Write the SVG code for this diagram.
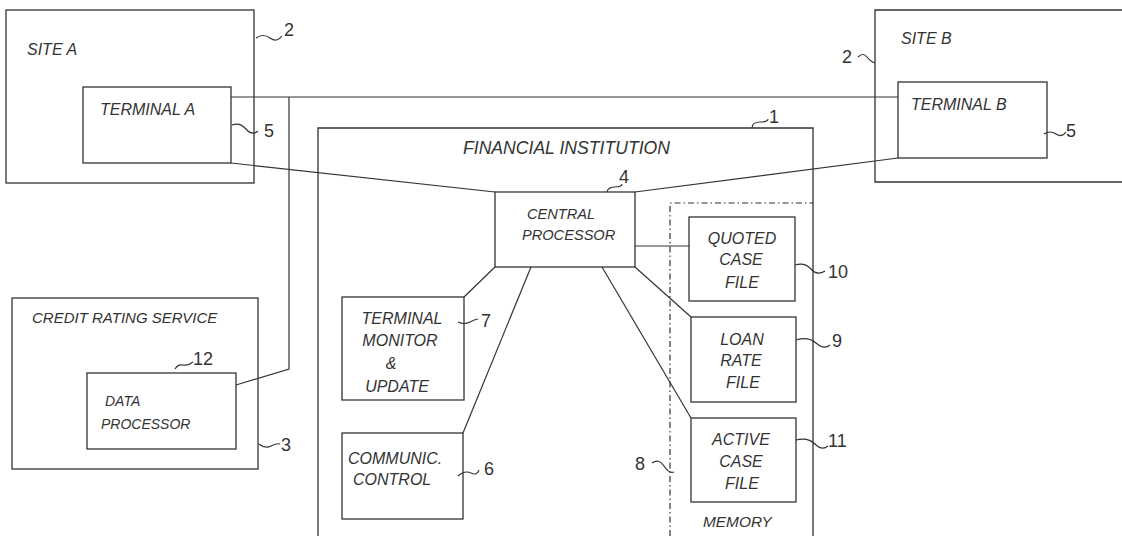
<svg xmlns="http://www.w3.org/2000/svg" width="1122" height="536" viewBox="0 0 1122 536">
<style>
.box{fill:none;stroke:#333;stroke-width:1.3}
.ln{fill:none;stroke:#333;stroke-width:1.2}
.dd{fill:none;stroke:#333;stroke-width:1.2;stroke-dasharray:6 3 1.5 3}
.sq{fill:none;stroke:#333;stroke-width:1.2}
.t{font-family:"Liberation Sans",Arial,sans-serif;font-style:italic;font-size:16px;fill:#333}
.tc{font-family:"Liberation Sans",Arial,sans-serif;font-style:italic;font-size:16px;fill:#333;text-anchor:middle}
.n{font-family:"Liberation Sans",Arial,sans-serif;font-size:18px;fill:#333}
</style>
<rect width="1122" height="536" fill="#fff"/>
<g id="connectors">
<path class="ln" d="M231,97 H898"/>
<path class="ln" d="M289,97 V369 L236,385"/>
<path class="ln" d="M231,163 L495,192"/>
<path class="ln" d="M898,158 L635,192"/>
<path class="ln" d="M635,246 H689"/>
<path class="ln" d="M635,267 L691,317"/>
<path class="ln" d="M602,267 L691,418"/>
<path class="ln" d="M495,267 L464,297"/>
<path class="ln" d="M531,267 L463,433"/>
</g>
<g id="site-a">
<rect class="box" x="6" y="10" width="248" height="173"/>
<text class="t" x="27" y="55">SITE A</text>
<path class="sq" d="M256,38 q7,-5 14,0 t12,-2"/>
<text class="n" x="284" y="36">2</text>
</g>
<g id="terminal-a">
<rect class="box" x="83" y="87" width="148" height="76"/>
<text class="t" x="100" y="115">TERMINAL A</text>
<path class="sq" d="M232,125 q8,-3 14,4 t12,2"/>
<text class="n" x="264" y="137">5</text>
</g>
<g id="site-b">
<path class="box" d="M1122,10 H875 V182 H1122"/>
<text class="t" x="901" y="44">SITE B</text>
<path class="sq" d="M858,57 q5,-5 9,0 t8,6"/>
<text class="n" x="842" y="63">2</text>
</g>
<g id="terminal-b">
<rect class="box" x="898" y="82" width="149" height="76"/>
<text class="t" x="911" y="110">TERMINAL B</text>
<path class="sq" d="M1044,134 q6,-4 12,0 t10,-2"/>
<text class="n" x="1066" y="137">5</text>
</g>
<g id="financial-institution">
<path class="box" d="M318,536 V128 H813 V536"/>
<text class="t" x="463" y="154" style="font-size:17.6px">FINANCIAL INSTITUTION</text>
<path class="sq" d="M752,128 q0,-6 8,-6 t8,-3"/>
<text class="n" x="769" y="123">1</text>
</g>
<g id="central-processor">
<rect class="box" x="495" y="192" width="140" height="75"/>
<text class="t" x="527" y="219" style="font-size:14.6px">CENTRAL</text>
<text class="t" x="522" y="240" style="font-size:14.6px">PROCESSOR</text>
<path class="sq" d="M607,192 q1,-5 8,-5 t7,-3"/>
<text class="n" x="619" y="183">4</text>
</g>
<g id="memory">
<path class="dd" d="M670,536 V203 H813"/>
<text class="t" x="703" y="527" style="font-size:15.4px">MEMORY</text>
<path class="sq" d="M652,463 q7,-5 12,3 t10,6"/>
<text class="n" x="635" y="470">8</text>
</g>
<g id="quoted-case-file">
<rect class="box" x="689" y="217" width="106" height="84"/>
<text class="tc" x="742" y="244">QUOTED</text>
<text class="tc" x="741" y="265">CASE</text>
<text class="tc" x="742" y="288">FILE</text>
<path class="sq" d="M795,265 q10,-3 16,4 t14,2"/>
<text class="n" x="828" y="278">10</text>
</g>
<g id="loan-rate-file">
<rect class="box" x="691" y="317" width="105" height="85"/>
<text class="tc" x="742" y="345">LOAN</text>
<text class="tc" x="741" y="366">RATE</text>
<text class="tc" x="743" y="388">FILE</text>
<path class="sq" d="M796,340 q12,-4 20,3 t14,2"/>
<text class="n" x="832" y="347">9</text>
</g>
<g id="active-case-file">
<rect class="box" x="691" y="418" width="105" height="84"/>
<text class="tc" x="741" y="445">ACTIVE</text>
<text class="tc" x="741" y="467">CASE</text>
<text class="tc" x="742" y="489">FILE</text>
<path class="sq" d="M796,440 q12,-3 19,4 t13,2"/>
<text class="n" x="828" y="447">11</text>
</g>
<g id="terminal-monitor">
<rect class="box" x="342" y="297" width="122" height="103"/>
<text class="tc" x="402" y="324">TERMINAL</text>
<text class="tc" x="400" y="346">MONITOR</text>
<text class="tc" x="391" y="369">&amp;</text>
<text class="tc" x="397" y="392">UPDATE</text>
<path class="sq" d="M458,322 q6,3 12,0 t8,-3"/>
<text class="n" x="481" y="327">7</text>
</g>
<g id="communic-control">
<rect class="box" x="342" y="433" width="121" height="86"/>
<text class="t" x="348" y="464">COMMUNIC.</text>
<text class="t" x="353" y="485">CONTROL</text>
<path class="sq" d="M458,476 q7,-6 13,-3 t8,-3"/>
<text class="n" x="484" y="475">6</text>
</g>
<g id="credit-rating-service">
<rect class="box" x="12" y="298" width="246" height="171"/>
<text class="t" x="32" y="323" style="font-size:15px">CREDIT RATING SERVICE</text>
<path class="sq" d="M259,444 q6,5 12,2 t9,-2"/>
<text class="n" x="281" y="451">3</text>
</g>
<g id="data-processor">
<rect class="box" x="87" y="373" width="149" height="76"/>
<text class="t" x="105" y="406" style="font-size:14px">DATA</text>
<text class="t" x="101" y="429" style="font-size:14px">PROCESSOR</text>
<path class="sq" d="M175,369 q3,-5 8,-4 t10,-3"/>
<text class="n" x="193" y="365">12</text>
</g>
</svg>
